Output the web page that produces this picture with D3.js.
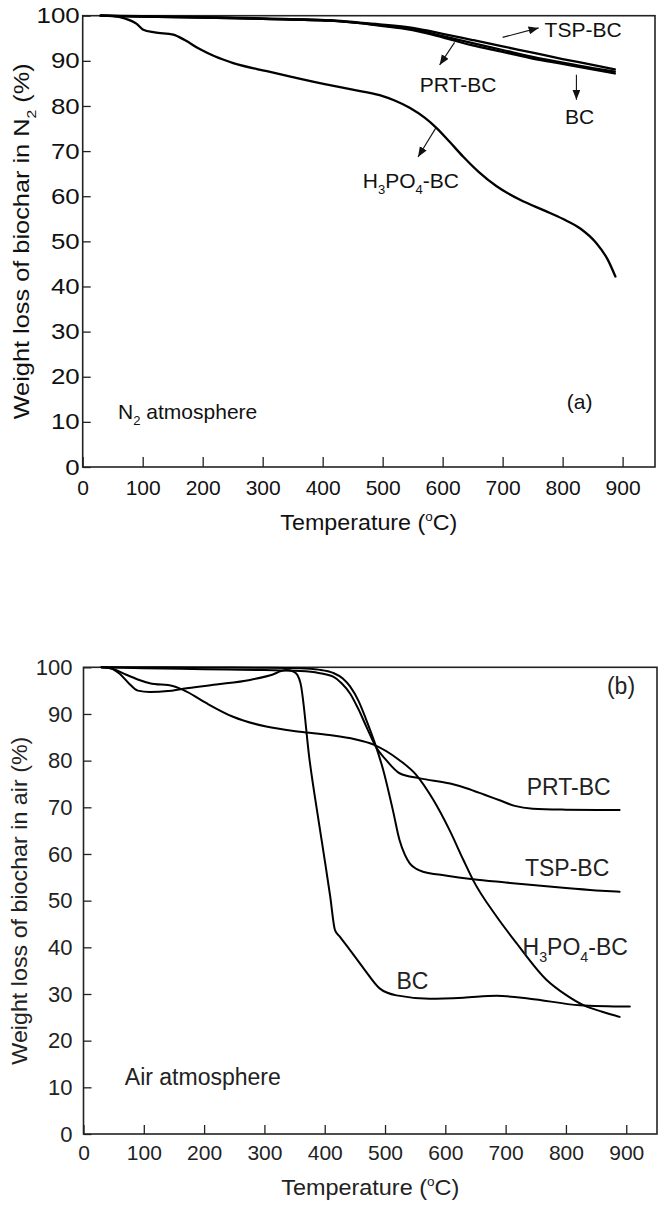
<!DOCTYPE html>
<html><head><meta charset="utf-8">
<script src="https://cdn.jsdelivr.net/npm/d3@7"></script>
<style>
body{margin:0;background:#fff}
svg{display:block}
text{font-family:Arial,"Liberation Sans",sans-serif}
</style>
</head><body>
<svg id="c" width="664" height="1207"></svg>
<script>
// ---------- tick values ----------
const xTicks = [0,100,200,300,400,500,600,700,800,900];
const yTicks = [0,10,20,30,40,50,60,70,80,90,100];

// ---------- (a) N2 atmosphere: [temperature °C, weight %] ----------
const n2BC = [[30,100],[100,99.8],[200,99.6],[300,99.3],[412,98.9],[450,98.5],[495,97.8],[550,96.8],[600,95.2],[650,93.4],[700,92.0],[750,90.5],[800,89.3],[850,88.1],[887,87.2]];
const n2PRT = [[30,100],[100,99.8],[200,99.6],[300,99.3],[412,98.9],[450,98.5],[495,97.9],[550,97.0],[600,95.5],[650,93.9],[700,92.4],[750,90.9],[800,89.6],[850,88.4],[887,87.6]];
const n2TSP = [[30,100],[100,99.9],[200,99.7],[300,99.4],[412,99.0],[450,98.6],[495,98.1],[550,97.3],[600,96.0],[650,94.6],[700,93.2],[750,91.8],[800,90.4],[850,89.1],[887,88.1]];
const n2H3PO4 = [[30,100],[50,99.9],[70,99.4],[90,98.2],[101,96.9],[120,96.3],[151,95.8],[170,94.6],[195,92.6],[220,91.0],[251,89.5],[307,87.7],[350,86.4],[412,84.6],[450,83.6],[495,82.4],[520,81.2],[545,79.6],[570,77.4],[590,75.1],[612,72.0],[634,68.8],[660,65.4],[690,62.2],[729,59.2],[770,56.8],[800,55.0],[830,52.8],[855,49.8],[875,46.0],[888,42.2]];

// ---------- (b) Air atmosphere ----------
const airBC = [[30,100],[45,99.8],[60,98.6],[75,96.6],[90,95.0],[110,94.7],[140,94.9],[165,95.4],[220,96.3],[276,97.3],[310,98.3],[336,99.4],[348,99.1],[355,98.3],[360,96.5],[375,80.0],[390,67.0],[400,58.7],[409,51.0],[417,43.7],[425,42.3],[442,39.4],[465,35.4],[491,31.2],[519,29.7],[574,29.0],[630,29.2],[685,29.6],[740,29.0],[823,27.6],[906,27.3]];
const airH3PO4 = [[30,100],[50,99.6],[71,98.4],[90,97.4],[110,96.6],[148,96.0],[171,94.8],[204,92.3],[248,89.4],[303,87.3],[359,86.2],[408,85.5],[450,84.6],[480,83.5],[524,80.1],[552,76.9],[580,71.6],[607,65.1],[630,58.7],[646,54.4],[685,46.6],[718,40.9],[768,33.0],[800,29.8],[829,27.6],[860,26.2],[889,25.1]];
const airTSP = [[30,100],[100,100],[200,99.95],[300,99.9],[359,99.8],[390,99.5],[414,98.8],[430,97.6],[442,95.9],[456,92.8],[469,88.7],[483,83.8],[497,78.0],[513,69.4],[524,63.0],[533,59.8],[541,58.0],[552,56.8],[563,56.2],[600,55.4],[646,54.6],[700,53.9],[740,53.4],[800,52.7],[850,52.2],[889,51.9]];
const airPRT = [[30,100],[100,99.8],[200,99.6],[300,99.4],[359,99.2],[390,98.8],[414,98.0],[428,96.6],[442,94.4],[456,91.0],[469,87.3],[485,82.9],[502,80.1],[524,77.3],[558,76.2],[608,75.1],[635,74.1],[665,72.7],[690,71.5],[715,70.3],[745,69.7],[800,69.5],[889,69.4]];

// ---------- annotations (data units) ----------
const n2Labels = [
  {t:"TSP-BC", T:770, v:96.9},
  {t:"PRT-BC", T:562, v:84.7},
  {t:"BC", T:804, v:77.7},
  {t:"H_3PO_4-BC", T:467, v:63.6},
  {t:"(a)", T:807, v:14.5},
  {t:"N_2 atmosphere", T:59, v:12.3}
];
const n2Arrows = [
  {T1:700, v1:95.2, T2:760, v2:97.3},
  {T1:620, v1:94.1, T2:595, v2:89.1},
  {T1:823, v1:86.9, T2:823, v2:81.4},
  {T1:589, v1:75.2, T2:559, v2:68.7}
];
const airLabels = [
  {t:"(b)", T:868, v:96.1},
  {t:"PRT-BC", T:735, v:74.4},
  {t:"TSP-BC", T:732, v:57.0},
  {t:"H_3PO_4-BC", T:728, v:40.1},
  {t:"BC", T:519, v:32.8},
  {t:"Air atmosphere", T:68.5, v:12.3}
];

const svg = d3.select("#c");
svg.append("defs").append("marker")
  .attr("id","ah").attr("markerUnits","userSpaceOnUse")
  .attr("markerWidth",12).attr("markerHeight",10)
  .attr("refX",10).attr("refY",4).attr("orient","auto")
  .append("path").attr("d","M0,0 L10,4 L0,8 Z").attr("fill","#111");

function rich(sel, str, fs){
  const parts = str.split(/([_^].)/).filter(s=>s.length);
  let shift = 0;
  parts.forEach(p=>{
    let t=p, target=0, size=fs;
    if(p.length===2 && p[0]==='_'){t=p[1]; target=0.3*fs; size=0.62*fs;}
    else if(p.length===2 && p[0]==='^'){t=p[1]; target=-0.42*fs; size=0.58*fs;}
    sel.append("tspan").attr("dy", target-shift).attr("font-size", size).text(t);
    shift = target;
  });
}

function panel(c){
  const x = d3.scaleLinear().domain([0,c.xmax]).range([c.left,c.right]);
  const y = d3.scaleLinear().domain([0,100]).range([c.bottom,c.top]);
  const g = svg.append("g");
  const ya = g.append("g").attr("transform",`translate(${c.left},0)`)
    .call(d3.axisLeft(y).tickValues(yTicks).tickSizeInner(-c.ytick).tickSizeOuter(0).tickPadding(c.ypad));
  ya.select(".domain").remove();
  ya.selectAll("line").attr("stroke","#222").attr("stroke-width",1.3);
  ya.selectAll("text").attr("font-size",c.yfs).attr("fill",c.tc)
    .attr("font-family","Arial, 'Liberation Sans', sans-serif");
  if(c.ydigit) ya.selectAll("text").attr("textLength",d=>String(d).length*c.ydigit).attr("lengthAdjust","spacingAndGlyphs");
  const xa = g.append("g").attr("transform",`translate(0,${c.bottom})`)
    .call(d3.axisBottom(x).tickValues(xTicks).tickSizeInner(-c.xtick).tickSizeOuter(0).tickPadding(c.xpad));
  xa.select(".domain").remove();
  xa.selectAll("line").attr("stroke","#222").attr("stroke-width",1.3);
  xa.selectAll("text").attr("font-size",c.xfs).attr("fill",c.tc)
    .attr("font-family","Arial, 'Liberation Sans', sans-serif");
  g.append("rect").attr("x",c.left).attr("y",c.top).attr("width",c.right-c.left).attr("height",c.bottom-c.top)
    .attr("fill","none").attr("stroke","#222").attr("stroke-width",1.6);
  const line = d3.line().x(d=>x(d[0])).y(d=>y(d[1])).curve(d3.curveMonotoneX);
  c.series.forEach(s=>{
    g.append("path").datum(s).attr("d",line).attr("fill","none")
      .attr("stroke","#000").attr("stroke-width",c.lw).attr("stroke-linejoin","round").attr("stroke-linecap","round");
  });
  (c.arrows||[]).forEach(a=>{
    g.append("line").attr("x1",x(a.T1)).attr("y1",y(a.v1)).attr("x2",x(a.T2)).attr("y2",y(a.v2))
      .attr("stroke","#111").attr("stroke-width",1.1).attr("marker-end","url(#ah)");
  });
  c.labels.forEach(l=>{
    const t = g.append("text").attr("x",x(l.T)).attr("y",y(l.v)+c.lfs*0.36).attr("font-size",c.lfs).attr("fill",c.tc);
    rich(t,l.t,c.lfs);
  });
  const xt = g.append("text").attr("x",(c.left+c.right)/2).attr("y",c.xtY).attr("text-anchor","middle")
    .attr("font-size",c.tfs).attr("fill",c.tc);
  rich(xt,"Temperature (^oC)",c.tfs);
  if(c.xtLen) xt.attr("textLength",c.xtLen).attr("lengthAdjust","spacingAndGlyphs");
  const ytt = g.append("text").attr("transform",`translate(${c.ytX},${(c.top+c.bottom)/2}) rotate(-90)`)
    .attr("text-anchor","middle").attr("font-size",c.tfs).attr("fill",c.tc);
  rich(ytt,c.ytitle,c.tfs);
  if(c.ytLen) ytt.attr("textLength",c.ytLen).attr("lengthAdjust","spacingAndGlyphs");
}

panel({left:82.7,right:655,top:15.7,bottom:467,xmax:954,
  ytick:8,xtick:10,ypad:3,xpad:13,yfs:22,xfs:21,ydigit:14.4,tc:"#111",
  series:[n2BC,n2PRT,n2TSP,n2H3PO4],lw:2.3,arrows:n2Arrows,labels:n2Labels,lfs:21,
  tfs:22,xtY:530,ytX:29,ytitle:"Weight loss of biochar in N_2 (%)",ytLen:356,xtLen:177});

panel({left:83.5,right:657,top:667.3,bottom:1134,xmax:951,
  ytick:8,xtick:9,ypad:11,xpad:11,yfs:22,xfs:21,ydigit:0,tc:"#222",
  series:[airBC,airH3PO4,airTSP,airPRT],lw:2,arrows:[],labels:airLabels,lfs:23,
  tfs:22,xtY:1195,ytX:27,ytitle:"Weight loss of biochar in air (%)",ytLen:328,xtLen:178});
</script>
</body></html>
